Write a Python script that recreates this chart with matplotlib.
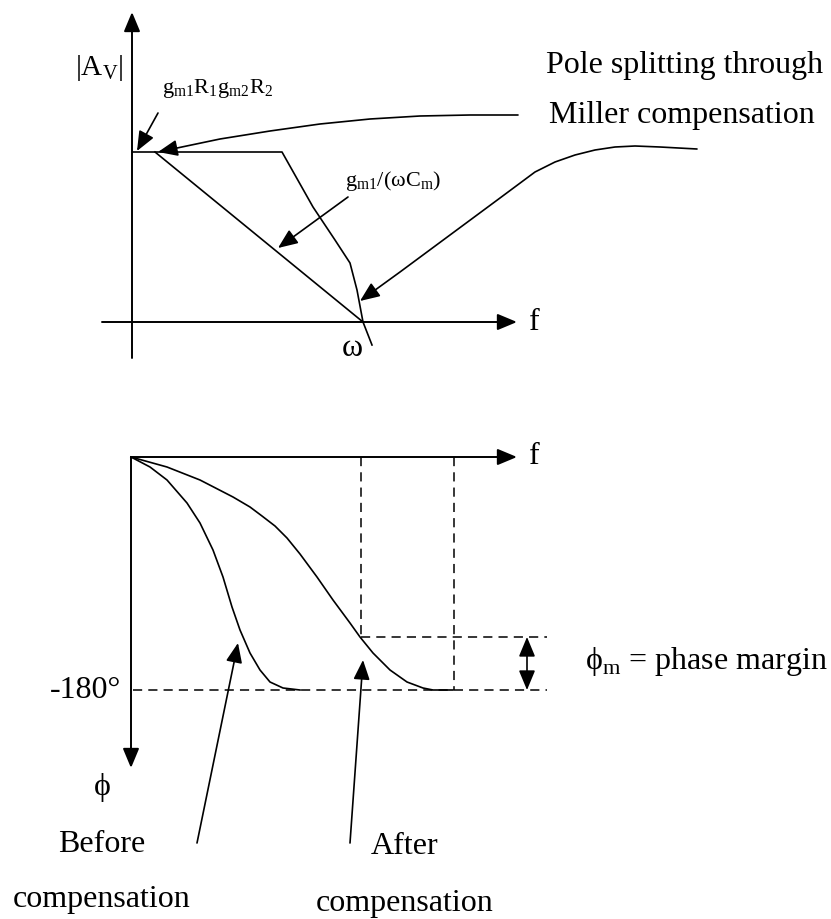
import matplotlib.pyplot as plt
from matplotlib.patches import FancyArrowPatch
from matplotlib.path import Path

plt.rcParams['font.family'] = ['Liberation Serif', 'DejaVu Serif']
plt.rcParams['mathtext.fontset'] = 'custom'
plt.rcParams['mathtext.rm'] = 'Liberation Serif'

# Sketch coordinates (pixels of the 831x919 picture, y pointing down)

# magnitude plot
mag_uncomp_x = [133, 282, 313, 335, 350, 357, 363, 372]
mag_uncomp_y = [152, 152, 207, 240, 263, 290, 322, 345]
mag_comp_x = [155, 363]
mag_comp_y = [152, 322]
split_top_x = [518, 470, 420, 370, 320, 270, 220, 158]
split_top_y = [115, 115, 116, 119, 124, 131, 139, 152]
split_bot_x = [697, 660, 635, 615, 595, 575, 555, 535, 500, 450, 400, 360]
split_bot_y = [149, 147, 146, 147, 150, 155, 162, 172, 198, 235, 272, 301]

# phase plot
before_x = [131, 150, 167, 187, 200, 213, 223, 232, 240, 250, 260, 270, 283, 300]
before_y = [457, 467, 480, 503, 523, 550, 577, 607, 630, 653, 670, 682, 688, 690]
after_x = [131, 167, 200, 233, 250, 262, 275, 287, 300, 317, 333, 350, 360, 373, 390, 407, 423, 433, 453]
after_y = [457, 467, 480, 497, 507, 516, 526, 538, 554, 577, 600, 623, 637, 653, 670, 682, 688, 690, 690]
y_180 = 690
y_pm = 637
x_cross = 361
x_unity = 454

fig = plt.figure(figsize=(8.31, 9.19), dpi=100)
ax = fig.add_axes([0, 0, 1, 1])
ax.set_xlim(0, 831)
ax.set_ylim(919, 0)
ax.axis('off')

lw = 1.2
k = 'black'
fs = 23
head = '-|>,head_length=0.6,head_width=0.25'


def arrow(xs, ys, style=head, scale=20, width=lw):
    p = FancyArrowPatch(path=Path(list(zip(xs, ys))), arrowstyle=style,
                        mutation_scale=scale, color=k, lw=width,
                        shrinkA=0, shrinkB=0)
    ax.add_patch(p)


# axes of magnitude plot
arrow([132, 132], [358, 12], width=1.4)
arrow([102, 517], [322, 322], width=1.4)
ax.plot(mag_uncomp_x, mag_uncomp_y, color=k, lw=lw)
ax.plot(mag_comp_x, mag_comp_y, color=k, lw=lw)
arrow(split_top_x, split_top_y)
arrow(split_bot_x, split_bot_y)
arrow([158, 137], [113, 151])
arrow([348, 278], [197, 248])

ax.text(123, 68, '|A$_{\\mathregular{V}}$|', fontsize=21, ha='right', va='center')
ax.text(162, 89, 'g$_{\\mathregular{m1}}$R$_{\\mathregular{1}}$g$_{\\mathregular{m2}}$R$_{\\mathregular{2}}$',
        fontsize=16, ha='left', va='center')
ax.text(345, 181, 'g$_{\\mathregular{m1}}$/(ωC$_{\\mathregular{m}}$)',
        fontsize=16, ha='left', va='center')
ax.text(529, 322, 'f', fontsize=fs, ha='left', va='center')
ax.text(352, 349, 'ω', fontsize=fs, ha='center', va='center')
ax.text(823, 65, 'Pole splitting through', fontsize=fs, ha='right', va='center')
ax.text(815, 116, 'Miller compensation', fontsize=fs, ha='right', va='center')

# axes of phase plot
arrow([131, 131], [457, 768], width=1.4)
arrow([131, 517], [457, 457], width=1.4)
ax.plot(before_x, before_y, color=k, lw=lw)
ax.plot(after_x, after_y, color=k, lw=lw)

dash = dict(color=k, lw=1.1, dashes=(6, 4))
ax.plot([133, 547], [y_180, y_180], **dash)
ax.plot([x_cross, 547], [y_pm, y_pm], **dash)
ax.plot([x_cross, x_cross], [457, y_pm], **dash)
ax.plot([x_unity, x_unity], [457, y_180], **dash)
arrow([527, 527], [y_pm, y_180],
      style='<|-|>,head_length=0.6,head_width=0.25', scale=20)

arrow([197, 238], [843, 643])
arrow([350, 363], [843, 660])

ax.text(529, 457, 'f', fontsize=fs, ha='left', va='center')
ax.text(121, 690, '-180°', fontsize=fs, ha='right', va='center')
ax.text(102, 787, 'ϕ', fontsize=fs, ha='center', va='center')
ax.text(585, 661, 'ϕ$_{\\mathregular{m}}$ = phase margin', fontsize=fs, ha='left', va='center')
ax.text(102, 845, 'Before', fontsize=fs, ha='center', va='center')
ax.text(102, 900, 'compensation', fontsize=fs, ha='center', va='center')
ax.text(405, 847, 'After', fontsize=fs, ha='center', va='center')
ax.text(405, 903, 'compensation', fontsize=fs, ha='center', va='center')

fig.savefig('out.png', dpi=100)
